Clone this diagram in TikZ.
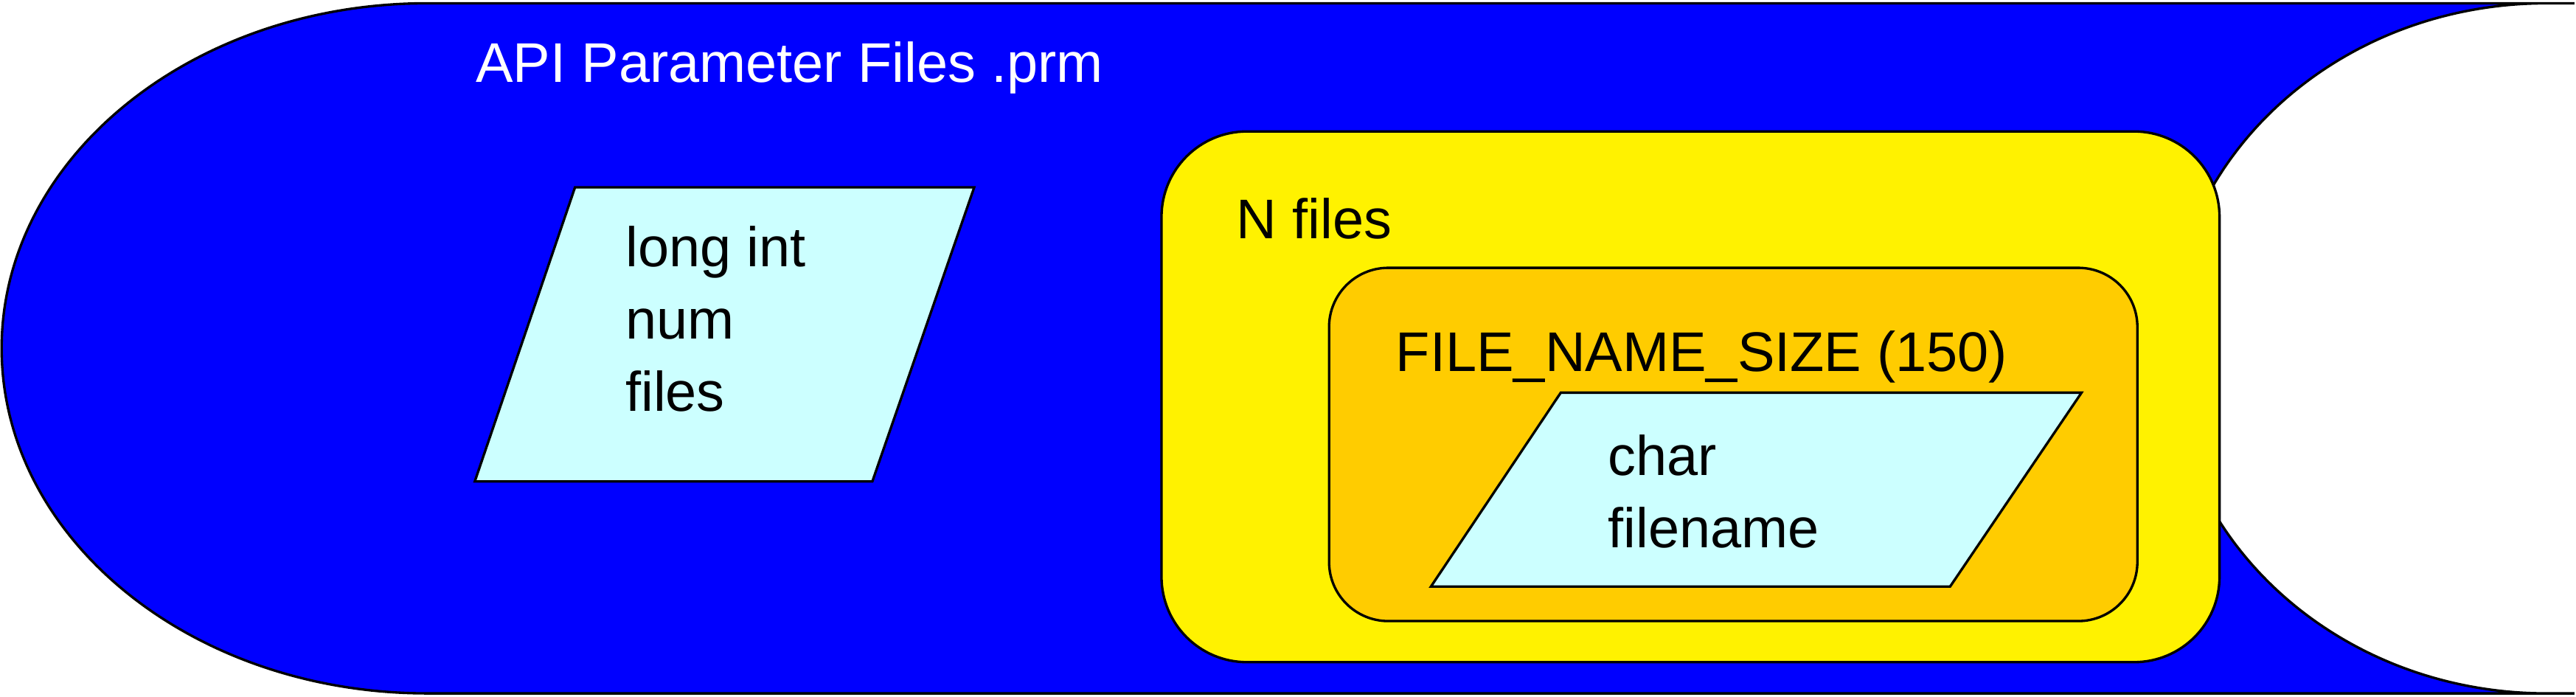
\documentclass[tikz,border=0pt]{standalone}
\usepackage{fontspec}
\setmainfont{Liberation Sans}
\begin{document}
\begin{tikzpicture}[x=1pt,y=1pt,line width=1.5pt,
  lbl/.style={anchor=base west,inner sep=0pt,font=\fontsize{34}{44}\selectfont},
  par/.style={draw=black,fill=cyan!20}]
\definecolor{myblue}{HTML}{0000FF}
\definecolor{myorange}{HTML}{FFCC00}
\definecolor{mycyan}{HTML}{CCFFFF}
\useasboundingbox (0,0) rectangle (1568,424);
\path[draw=black,fill=myblue] (260,2) arc[start angle=270,end angle=90,x radius=259,y radius=210]
  -- (1567,422) -- (1550,422) arc[start angle=90,end angle=270,x radius=230,y radius=210] -- (1567,2) -- cycle;
\node[lbl,text=white] (title) at (289,374) {API Parameter Files .prm};
\draw[fill=mycyan] (350,310) -- (593,310) -- (531,131) -- (289,131) -- cycle;
\node[lbl,align=left,anchor=north west] (li) at (380,287) {long int\\num\\files};
\draw[fill=yellow,rounded corners=52] (707,21) rectangle (1351,344);
\node[lbl] (nf) at (752,279) {N files};
\draw[fill=myorange,rounded corners=36] (809,46) rectangle (1301,261);
\node[lbl] (fns) at (849,198) {FILE\_NAME\_SIZE (150)};
\draw[fill=mycyan] (950,185) -- (1267,185) -- (1187,67) -- (871,67) -- cycle;
\node[lbl,align=left,anchor=north west] (ch) at (978,160) {char\\filename};
\end{tikzpicture}
\end{document}
